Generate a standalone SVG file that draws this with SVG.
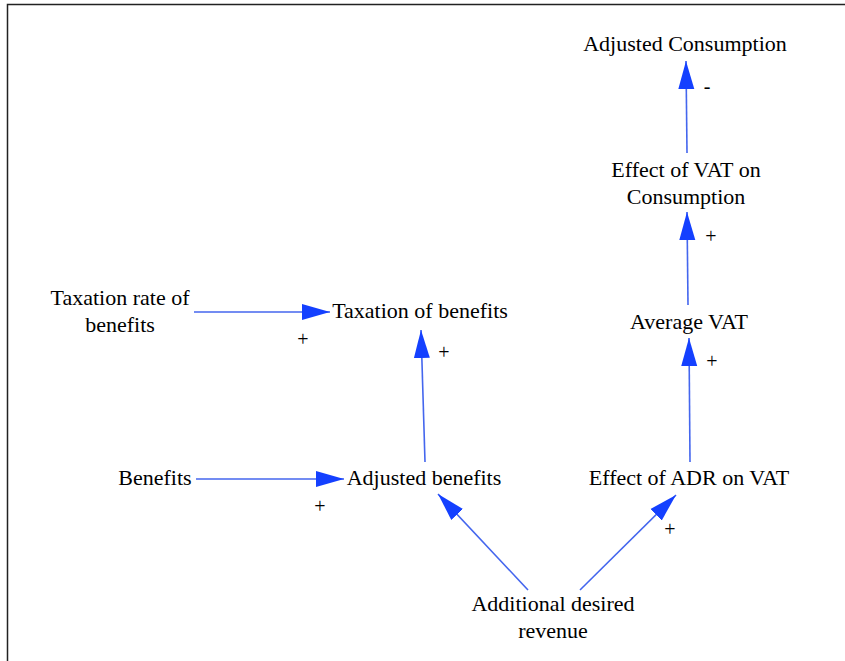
<svg xmlns="http://www.w3.org/2000/svg" width="845" height="661" viewBox="0 0 845 661">
<style>
text{font-family:"Liberation Serif","Times New Roman",serif;font-size:22px;fill:#000;text-anchor:middle}
.s{font-size:20px}
.c{stroke:#4466ee;stroke-width:1.6;fill:none;marker-end:url(#ah)}
</style>
<defs>
<marker id="ah" markerUnits="userSpaceOnUse" markerWidth="30" markerHeight="18" viewBox="0 -9 30 18" refX="28" refY="0" orient="auto">
<path d="M0,-8 L28,0 L0,8 Z" fill="#1440ff"/>
</marker>
</defs>
<rect width="845" height="661" fill="#fff"/>
<path d="M7.5,661 V4.5 H845" stroke="#222" stroke-width="1.5" fill="none"/>
<g id="connectors">
<path class="c" d="M687,153 L686,61"/>
<path class="c" d="M688,305 L687,212"/>
<path class="c" d="M690,462 L689,338"/>
<path class="c" d="M580,590 L676,495"/>
<path class="c" d="M528,590 L438,494"/>
<path class="c" d="M425,462 L421,330"/>
<path class="c" d="M194,312 L330,312"/>
<path class="c" d="M196,479 L344,479"/>
<text class="s" x="707" y="93">-</text>
<text class="s" x="711" y="243">+</text>
<text class="s" x="712" y="368">+</text>
<text class="s" x="670" y="536">+</text>
<text class="s" x="444" y="359">+</text>
<text class="s" x="303" y="346">+</text>
<text class="s" x="320" y="513">+</text>
</g>
<g id="adjusted-consumption"><text x="685" y="51">Adjusted Consumption</text></g>
<g id="effect-vat-consumption"><text x="686" y="177">Effect of VAT on</text><text x="686" y="204">Consumption</text></g>
<g id="average-vat"><text x="689" y="329">Average VAT</text></g>
<g id="effect-adr-vat"><text x="689" y="485">Effect of ADR on VAT</text></g>
<g id="additional-desired-revenue"><text x="553" y="611">Additional desired</text><text x="553" y="638">revenue</text></g>
<g id="adjusted-benefits"><text x="424" y="485">Adjusted benefits</text></g>
<g id="taxation-of-benefits"><text x="420" y="318">Taxation of benefits</text></g>
<g id="taxation-rate"><text x="120" y="305">Taxation rate of</text><text x="120" y="332">benefits</text></g>
<g id="benefits"><text x="155" y="485">Benefits</text></g>
</svg>
